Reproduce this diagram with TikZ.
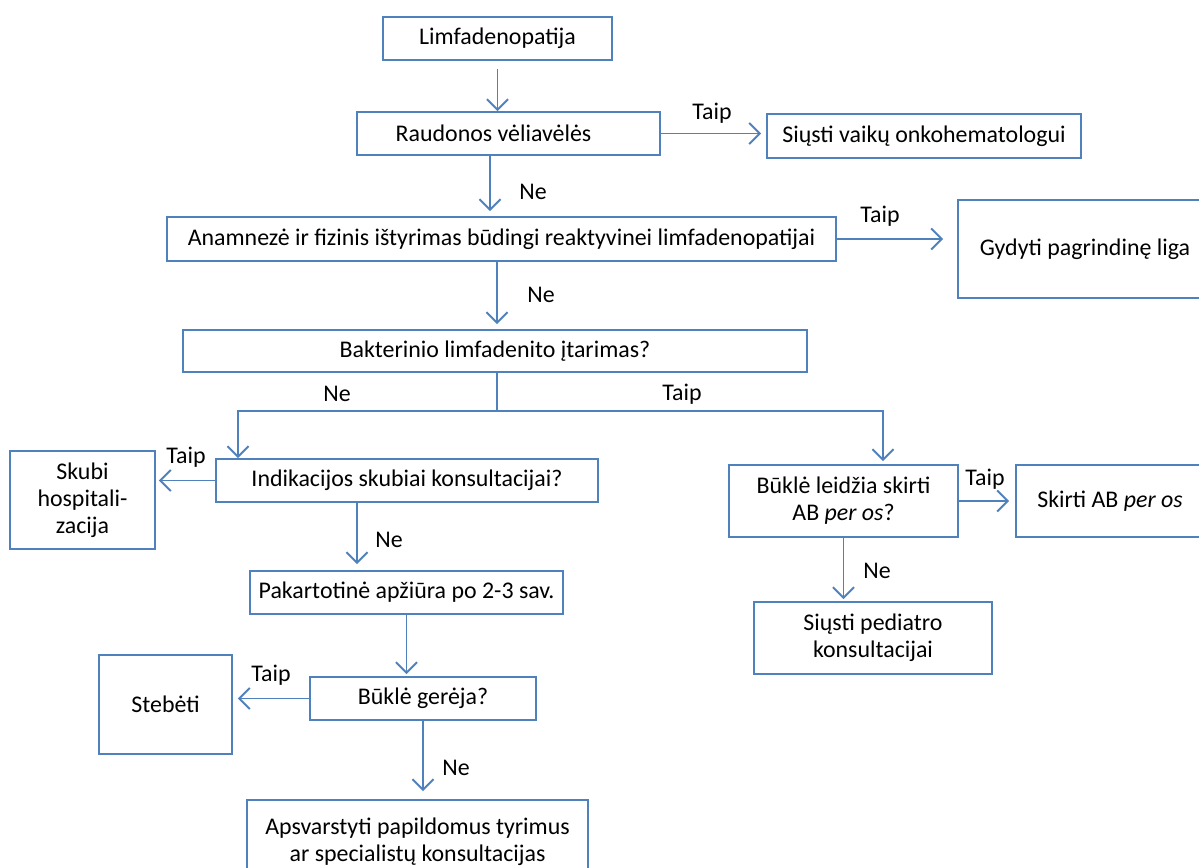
\documentclass[tikz,border=0pt]{standalone}
\usepackage{fontspec}
\setmainfont{Carlito}
\usepackage{tikz}
\usetikzlibrary{arrows.meta}
\definecolor{lblue}{RGB}{79,129,189}

\begin{document}
\begin{tikzpicture}[x=0.02cm, y=-0.02cm,
    font=\fontsize{13.6}{15.5}\selectfont,
    box/.style={draw=lblue, line width=1.1pt, inner sep=0pt, align=center},
    arr/.style={draw=lblue, line width=1.1pt, -{Straight Barb[length=6pt, width=12pt, line width=1.1pt]}},
    lnk/.style={draw=lblue, line width=1.1pt}]
             \clip (0,0) rectangle (1199,868);
             % boxes
             \node[box, minimum width=4.58cm, minimum height=0.86cm] (limf) at (497.5,38.5) {Limfadenopatija};
             \node[box, minimum width=6.06cm, minimum height=0.86cm] (raud) at (508.5,133.5) {Raudonos vėliavėlės\hspace*{0.6cm}};
             \node[box, minimum width=6.28cm, minimum height=0.88cm] (onko) at (924,136) {Siųsti vaikų onkohematologui};
             \node[box, minimum width=13.38cm, minimum height=0.88cm] (anam) at (501.5,239) {Anamnezė ir fizinis ištyrimas būdingi reaktyvinei limfadenopatijai};
             \node[box, minimum width=5.08cm, minimum height=1.96cm] (gyd) at (1085,249) {Gydyti pagrindinę liga};
             \node[box, minimum width=12.48cm, minimum height=0.84cm] (bakt) at (495,351) {Bakterinio limfadenito įtarimas?};
             \node[box, minimum width=2.9cm, minimum height=1.96cm] (skubi) at (82.5,500) {Skubi\\hospitali-\\zacija};
             \node[box, minimum width=7.64cm, minimum height=0.86cm] (indik) at (407,480.5) {Indikacijos skubiai konsultacijai?};
             \node[box, minimum width=6.26cm, minimum height=0.86cm] (pakart) at (406.5,592.5) {Pakartotinė apžiūra po 2-3 sav.};
             \node[box, minimum width=4.52cm, minimum height=0.86cm] (gerej) at (423,698.5) {Būklė gerėja?};
             \node[box, minimum width=2.66cm, minimum height=1.98cm] (steb) at (165.5,704.5) {Stebėti};
             \node[box, minimum width=6.82cm, minimum height=1.68cm] (apsv) at (417.5,842) {Apsvarstyti papildomus tyrimus\\ar specialistų konsultacijas};
             \node[box, minimum width=4.58cm, minimum height=1.44cm] (leid) at (843.5,501) {Būklė leidžia skirti\\AB \textit{per os}?};
             \node[box, minimum width=3.76cm, minimum height=1.44cm] (skirti) at (1110,501) {Skirti AB \textit{per os}};
             \node[box, minimum width=4.76cm, minimum height=1.44cm] (pediat) at (873,638) {Siųsti pediatro\\konsultacijai};
             % connectors
             \coordinate (split) at (497,411);
             \draw[arr, shorten <=0.16cm] (limf.south) -- (limf.south |- raud.north);
             \draw[arr, shorten >=0.1cm] (raud.east) -- (raud.east -| onko.west);
             \draw[arr, shorten >=0.1cm] (raud.south -| 490,0) -- (anam.north -| 490,0);
             \draw[arr, shorten >=0.28cm] (anam.east) -- (anam.east -| gyd.west);
             \draw[arr, shorten >=0.1cm] (anam.south -| split) -- (bakt.north -| split);
             \draw[lnk] (bakt.south -| split) -- (split);
             \draw[arr] (split) -| (indik.north -| 238,0);
             \draw[arr, shorten >=0.06cm] (split) -| (leid.north -| 883,0);
             \draw[arr, shorten >=0.06cm] (indik.west) -- (indik.west -| skubi.east);
             \draw[arr, shorten >=0.12cm] (indik.south -| 357,0) -- (pakart.north -| 357,0);
             \draw[arr, shorten >=0.04cm] (pakart.south) -- (pakart.south |- gerej.north);
             \draw[arr, shorten >=0.1cm] (gerej.west) -- (gerej.west -| steb.east);
             \draw[arr, shorten >=0.16cm] (gerej.south) -- (gerej.south |- apsv.north);
             \draw[arr, shorten >=0.12cm] (leid.east) -- (leid.east -| skirti.west);
             \draw[arr, shorten >=0.04cm] (leid.south) -- (leid.south |- pediat.north);
             % labels
             \node (t1) at (712,113) {Taip};
             \node (n1) at (533,192) {Ne};
             \node (t2) at (880,216) {Taip};
             \node (n2) at (541,295) {Ne};
             \node (n3) at (337,394) {Ne};
             \node (t3) at (682,394) {Taip};
             \node (t4) at (186,457) {Taip};
             \node (n4) at (389,540) {Ne};
             \node (t5) at (985,479) {Taip};
             \node (n5) at (877,571) {Ne};
             \node (t6) at (271,675) {Taip};
             \node (n6) at (456,768) {Ne};
         \end{tikzpicture}
\end{document}
